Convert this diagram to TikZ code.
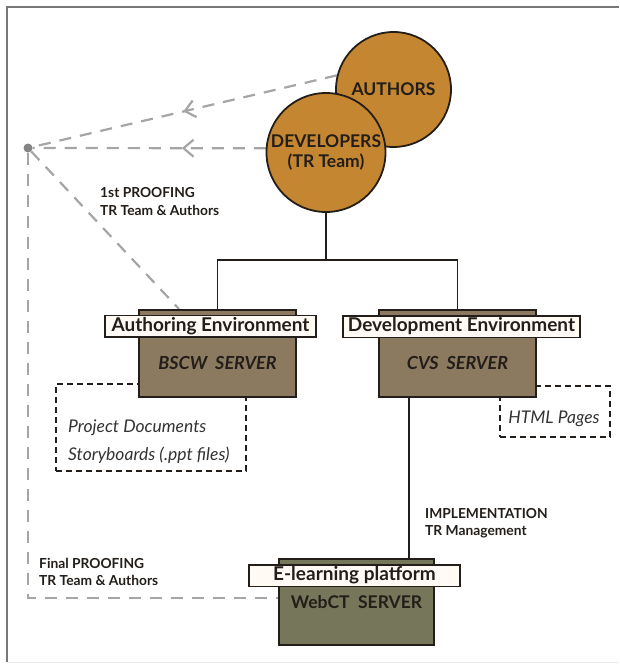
\documentclass[tikz,border=0pt]{standalone}
\usepackage{fontspec}
\setmainfont{Lato}
\usetikzlibrary{arrows.meta,decorations.markings}
\definecolor{circfill}{RGB}{196,134,48}
\definecolor{brownbox}{RGB}{140,122,96}
\definecolor{greenbox}{RGB}{118,118,90}
\definecolor{labelfill}{RGB}{255,250,244}
\definecolor{proofgray}{RGB}{165,165,165}
\definecolor{framegray}{RGB}{120,120,120}
\definecolor{ink}{RGB}{35,30,25}
\pgfdeclarelayer{background}
\pgfsetlayers{background,main}
\tikzset{
  person/.style={circle, draw=ink, line width=1.8pt, fill=circfill, inner sep=0pt,
    font=\bfseries\fontsize{17.5}{19.5}\selectfont, align=center, text=ink},
  server/.style={draw=ink, line width=1.8pt, minimum width=157pt, minimum height=87pt,
    inner sep=0pt, text=ink},
  envlabel/.style={draw=ink, line width=1.5pt, fill=labelfill, inner sep=0pt,
    minimum height=21.5pt, font=\bfseries\fontsize{19}{19}\selectfont, text=ink},
  dashbox/.style={draw=ink, line width=1.8pt, dash pattern=on 6pt off 4pt, inner sep=0pt},
  proof/.style={draw=proofgray, line width=2.2pt, dash pattern=on 12pt off 9pt},
  tree/.style={draw=ink, line width=1.8pt},
  note/.style={font=\bfseries\fontsize{13.8}{17.5}\selectfont, align=left, anchor=west,
    inner sep=0pt, text=ink},
  doctext/.style={font=\itshape\fontsize{17.5}{28}\selectfont, align=left, inner sep=0pt,
    text=black!80},
  chevat/.style={postaction={decorate}, decoration={markings,
    mark=at position #1 with {\arrow[proofgray, line width=2.2pt]{Straight Barb[length=10pt,width=17pt]}}}}
}
\begin{document}
\begin{tikzpicture}[x=1pt,y=-1pt]
\useasboundingbox (0,0) rectangle (619,666);
% frame
\draw[framegray, line width=1.2pt] (619,7) -- (7,7) -- (7,662);
\draw[black!8, line width=1pt] (7,662) -- (619,662);

% dashed content boxes (behind servers)
\node[dashbox, minimum width=190pt, minimum height=87pt, anchor=north west] (docbox) at (55,383) {};
\node[dashbox, minimum width=110pt, minimum height=51pt, anchor=north west] (htmlbox) at (499,385) {};
\node[doctext, anchor=west] (docs) at (68,442) {Project Documents\\Storyboards (.ppt files)};
\node[doctext] (html) at (554,419) {HTML Pages};

% servers
\node[server, fill=brownbox, font=\bfseries\itshape\fontsize{18}{19}\selectfont,
      text height=31.5pt, text depth=0pt] (bscw) at (217.5,353.5) {BSCW\ \ SERVER};
\node[server, fill=brownbox, font=\bfseries\itshape\fontsize{18}{19}\selectfont,
      text height=31.5pt, text depth=0pt] (cvs) at (457.5,353.5) {CVS\ \ SERVER};
\node[server, fill=greenbox, minimum width=155pt, minimum height=86pt,
      font=\bfseries\fontsize{17.5}{19}\selectfont] (webct) at (356.5,602) {WebCT\ \ SERVER};

% environment labels
\node[envlabel, minimum width=211pt] (authenv) at (210.5,326) {Authoring Environment};
\node[envlabel, minimum width=237pt] (devenv) at (461.5,326.5) {Development Environment};
\node[envlabel, minimum width=211pt] (elearn) at (354.5,575.5) {E-learning platform};

% people
\node[person, minimum size=115pt] (auth) at (393.5,89.5) {AUTHORS};
\node[person, minimum size=119pt] (dev) at (326,152.5) {DEVELOPERS\\(TR Team)};

% proofing dot
\node[circle, fill=proofgray!80!black, inner sep=0pt, minimum size=9pt] (dot) at (28,148) {};

% notes
\node[note] (first) at (100,201.5) {1st PROOFING\\TR Team \& Authors};
\node[note] (final) at (39,572) {Final PROOFING\\TR Team \& Authors};
\node[note] (impl) at (425,523) {IMPLEMENTATION\\TR Management};

% connectors
\coordinate (lvl) at (0,260);
\coordinate (fork) at (dev.south |- lvl);
\begin{pgfonlayer}{background}
  \draw[tree] (dev.south) -- (fork);
  \draw[tree] (bscw.north) |- (fork) -| (cvs.north);
  \draw[tree] ([xshift=-48.5pt]cvs.south) -- ([xshift=-48.5pt]cvs.south |- webct.north);
  \draw[proof, chevat=0.505] (auth.166) -- (dot);
  \draw[proof, chevat=0.36] (dev.176) -- (dot);
  \draw[proof] (dot) -- ([xshift=41pt]bscw.north west);
  \draw[proof] (dot) |- ([yshift=4pt]webct.west);
\end{pgfonlayer}
\end{tikzpicture}
\end{document}
